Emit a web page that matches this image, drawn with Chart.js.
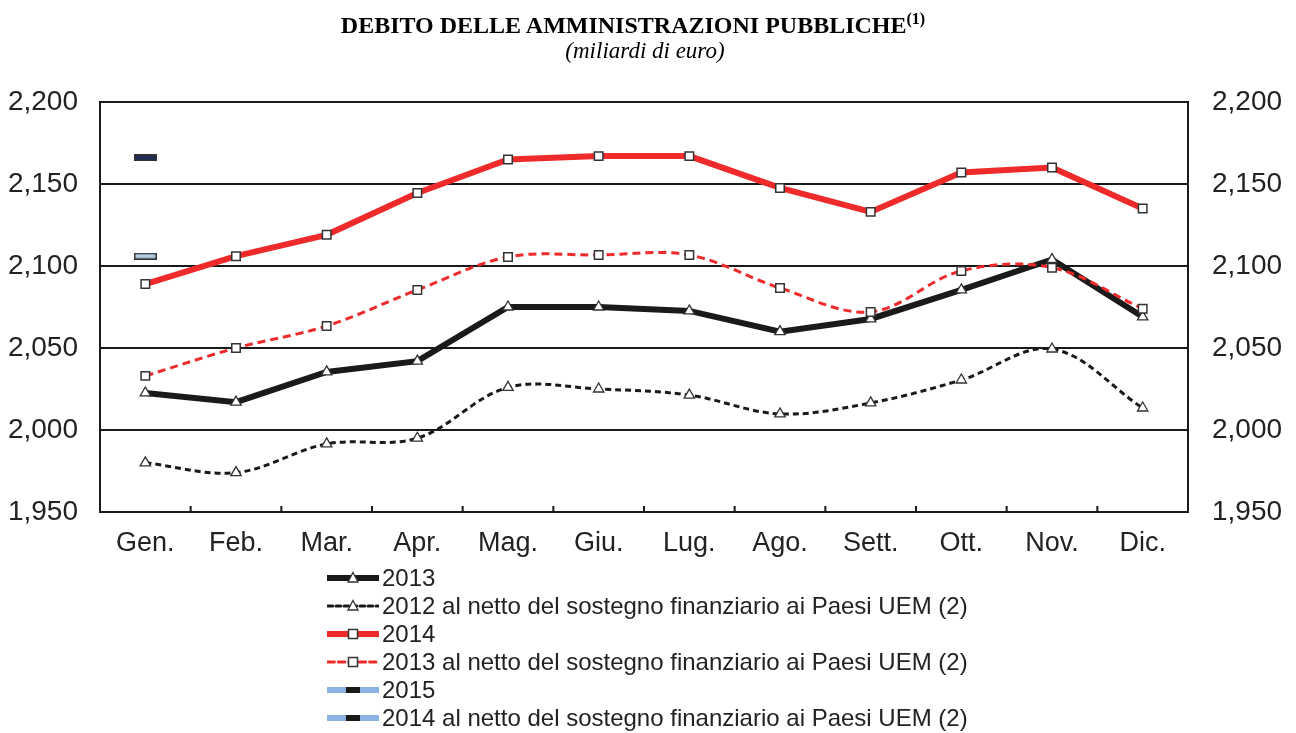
<!DOCTYPE html>
<html>
<head>
<meta charset="utf-8">
<script src="https://cdn.jsdelivr.net/npm/chart.js@4.4.1/dist/chart.umd.min.js"></script>
<style>
  html, body { margin:0; padding:0; background:#fff; width:1296px; height:733px; overflow:hidden; }
  #wrap { position:absolute; left:0; top:0; width:1296px; height:733px; }
  #title { position:absolute; left:0; width:1266px; top:12px; text-align:center; font-family:"Liberation Serif","Times New Roman",serif; font-weight:bold; font-size:24px; color:#000; }
  #title sup { font-size:16px; vertical-align: 9px; line-height:0; }
  #subtitle { position:absolute; left:0; width:1290px; top:38px; text-align:center; font-family:"Liberation Serif","Times New Roman",serif; font-style:italic; font-size:23px; color:#000; }
  #legend { position:absolute; left:327px; top:564px; font-family:"Liberation Sans",Arial,sans-serif; font-size:24px; color:#222; }
  .li { height:28px; display:flex; align-items:center; white-space:nowrap; }
  .li svg { margin-right:3px; }
</style>
</head>
<body>
<div id="wrap">
  <canvas id="c" width="1296" height="733"></canvas>
  <div id="title">DEBITO DELLE AMMINISTRAZIONI PUBBLICHE<sup>(1)</sup></div>
  <div id="subtitle">(miliardi di euro)</div>
  <div id="legend"></div>
</div>
<script>
// ---- data ----
const months = ["Gen.","Feb.","Mar.","Apr.","Mag.","Giu.","Lug.","Ago.","Sett.","Ott.","Nov.","Dic."];
const yTicks = [1950, 2000, 2050, 2100, 2150, 2200];
const debt2013 = [2022.6, 2017, 2035.4, 2042, 2075, 2075, 2072.6, 2060, 2067.7, 2085.4, 2104, 2069];
const debt2012net = [1980, 1974, 1991.5, 1995, 2026, 2025, 2021.3, 2009.8, 2016.5, 2030.5, 2049.4, 2013.4];
const debt2014 = [2089, 2106, 2119, 2144.5, 2165, 2167, 2167, 2147.6, 2133, 2157, 2160, 2135];
const debt2013net = [2033, 2050, 2063.4, 2085.4, 2105.5, 2106.7, 2106.7, 2086.6, 2072, 2097, 2099, 2074];
const debt2015 = [2166, null, null, null, null, null, null, null, null, null, null, null];
const debt2014net = [2106, null, null, null, null, null, null, null, null, null, null, null];
const seriesLabels = [
  "2013",
  "2012 al netto del sostegno finanziario ai Paesi UEM (2)",
  "2014",
  "2013 al netto del sostegno finanziario ai Paesi UEM (2)",
  "2015",
  "2014 al netto del sostegno finanziario ai Paesi UEM (2)"
];

const RED = '#EE2A2A';
const BLK = '#1a1a1a';
const MK = '#333333';

function barImg(fill) {
  const cv = document.createElement('canvas');
  cv.width = 23; cv.height = 7;
  const g = cv.getContext('2d');
  g.fillStyle = '#333'; g.fillRect(0, 0, 23, 7);
  g.fillStyle = fill; g.fillRect(1.5, 1.5, 20, 4);
  return cv;
}

const ds = [
  { label: seriesLabels[0], data: debt2013, borderColor: BLK, borderWidth: 6, tension: 0,
    pointStyle: 'triangle', pointRadius: 6, pointBackgroundColor: '#fff', pointBorderColor: MK, pointBorderWidth: 1.3, order: 2 },
  { label: seriesLabels[1], data: debt2012net, borderColor: BLK, borderWidth: 3, borderDash: [6, 4], tension: 0.35,
    pointStyle: 'triangle', pointRadius: 6, pointBackgroundColor: '#fff', pointBorderColor: MK, pointBorderWidth: 1.3, order: 3 },
  { label: seriesLabels[2], data: debt2014, borderColor: RED, borderWidth: 6, tension: 0,
    pointStyle: 'rect', pointRadius: 6, pointBackgroundColor: '#fff', pointBorderColor: MK, pointBorderWidth: 1.5, order: 1 },
  { label: seriesLabels[3], data: debt2013net, borderColor: RED, borderWidth: 3, borderDash: [8, 5], tension: 0.35,
    pointStyle: 'rect', pointRadius: 6, pointBackgroundColor: '#fff', pointBorderColor: MK, pointBorderWidth: 1.5, order: 0 },
  { label: seriesLabels[4], data: debt2015, borderColor: '#8DB3E2', borderWidth: 6,
    pointStyle: barImg('#1F2A55'), pointRadius: 6, order: 4 },
  { label: seriesLabels[5], data: debt2014net, borderColor: '#8DB3E2', borderWidth: 6,
    pointStyle: barImg('#B8CCE4'), pointRadius: 6, order: 5 }
];

const frame = {
  id: 'frame',
  afterDatasetsDraw(chart) {
    const { ctx, chartArea: a, scales: { x } } = chart;
    ctx.save();
    ctx.strokeStyle = '#1a1a1a';
    ctx.lineWidth = 2;
    ctx.strokeRect(a.left, a.top, a.right - a.left, a.bottom - a.top);
    ctx.beginPath();
    for (let i = 1; i < months.length; i++) {
      const px = (x.getPixelForValue(i - 1) + x.getPixelForValue(i)) / 2;
      ctx.moveTo(px, a.bottom);
      ctx.lineTo(px, a.bottom - 6);
    }
    ctx.stroke();
    ctx.restore();
  }
};

const fmt = v => v.toLocaleString('en-US');
const ff = '"Liberation Sans", Arial, sans-serif';

new Chart(document.getElementById('c'), {
  type: 'line',
  data: { labels: months, datasets: ds },
  options: {
    responsive: false,
    animation: false,
    layout: { padding: { top: 102, left: 0, right: 0, bottom: 0 } },
    plugins: { legend: { display: false }, tooltip: { enabled: false } },
    spanGaps: false,
    scales: {
      x: {
        offset: true,
        grid: { display: false },
        border: { display: false },
        ticks: { color: '#222', font: { family: ff, size: 27 }, padding: 7, maxRotation: 0 },
        afterFit: s => { s.height = 221; }
      },
      y: {
        position: 'left',
        min: 1950, max: 2200,
        afterBuildTicks: s => { s.ticks = yTicks.map(v => ({ value: v })); },
        grid: { color: '#1a1a1a', lineWidth: 2, drawTicks: false },
        border: { display: false },
        ticks: { color: '#222', font: { family: ff, size: 28 }, padding: 22, callback: fmt },
        afterFit: s => { s.width = 100; }
      },
      y2: {
        position: 'right',
        min: 1950, max: 2200,
        afterBuildTicks: s => { s.ticks = yTicks.map(v => ({ value: v })); },
        grid: { display: false, drawTicks: false },
        border: { display: false },
        ticks: { color: '#222', font: { family: ff, size: 28 }, padding: 24, callback: fmt },
        afterFit: s => { s.width = 108; }
      }
    }
  },
  plugins: [frame]
});

// ---- HTML legend ----
function sample(d, i) {
  const dash = d.borderDash ? `stroke-dasharray="${d.borderDash.map(v => v * 0.8).join(',')}"` : '';
  let mk = '';
  if (i === 4 || i === 5) {
    mk = `<rect x="19" y="7" width="14" height="6" fill="#1a1a1a"/>`;
  } else if (d.pointStyle === 'rect') {
    mk = `<rect x="21.5" y="5.5" width="9" height="9" fill="#fff" stroke="${MK}" stroke-width="1.5"/>`;
  } else {
    mk = `<polygon points="26,4.5 31,14 21,14" fill="#fff" stroke="${MK}" stroke-width="1.3"/>`;
  }
  const w = i === 1 || i === 3 ? 3 : 6;
  return `<svg width="52" height="20" viewBox="0 0 52 20"><line x1="1" y1="10" x2="51" y2="10" stroke="${d.borderColor}" stroke-width="${w}" stroke-linecap="round" ${dash}/>${mk}</svg>`;
}
document.getElementById('legend').innerHTML =
  ds.map((d, i) => `<div class="li">${sample(d, i)}<span>${d.label}</span></div>`).join('');
</script>
</body>
</html>
